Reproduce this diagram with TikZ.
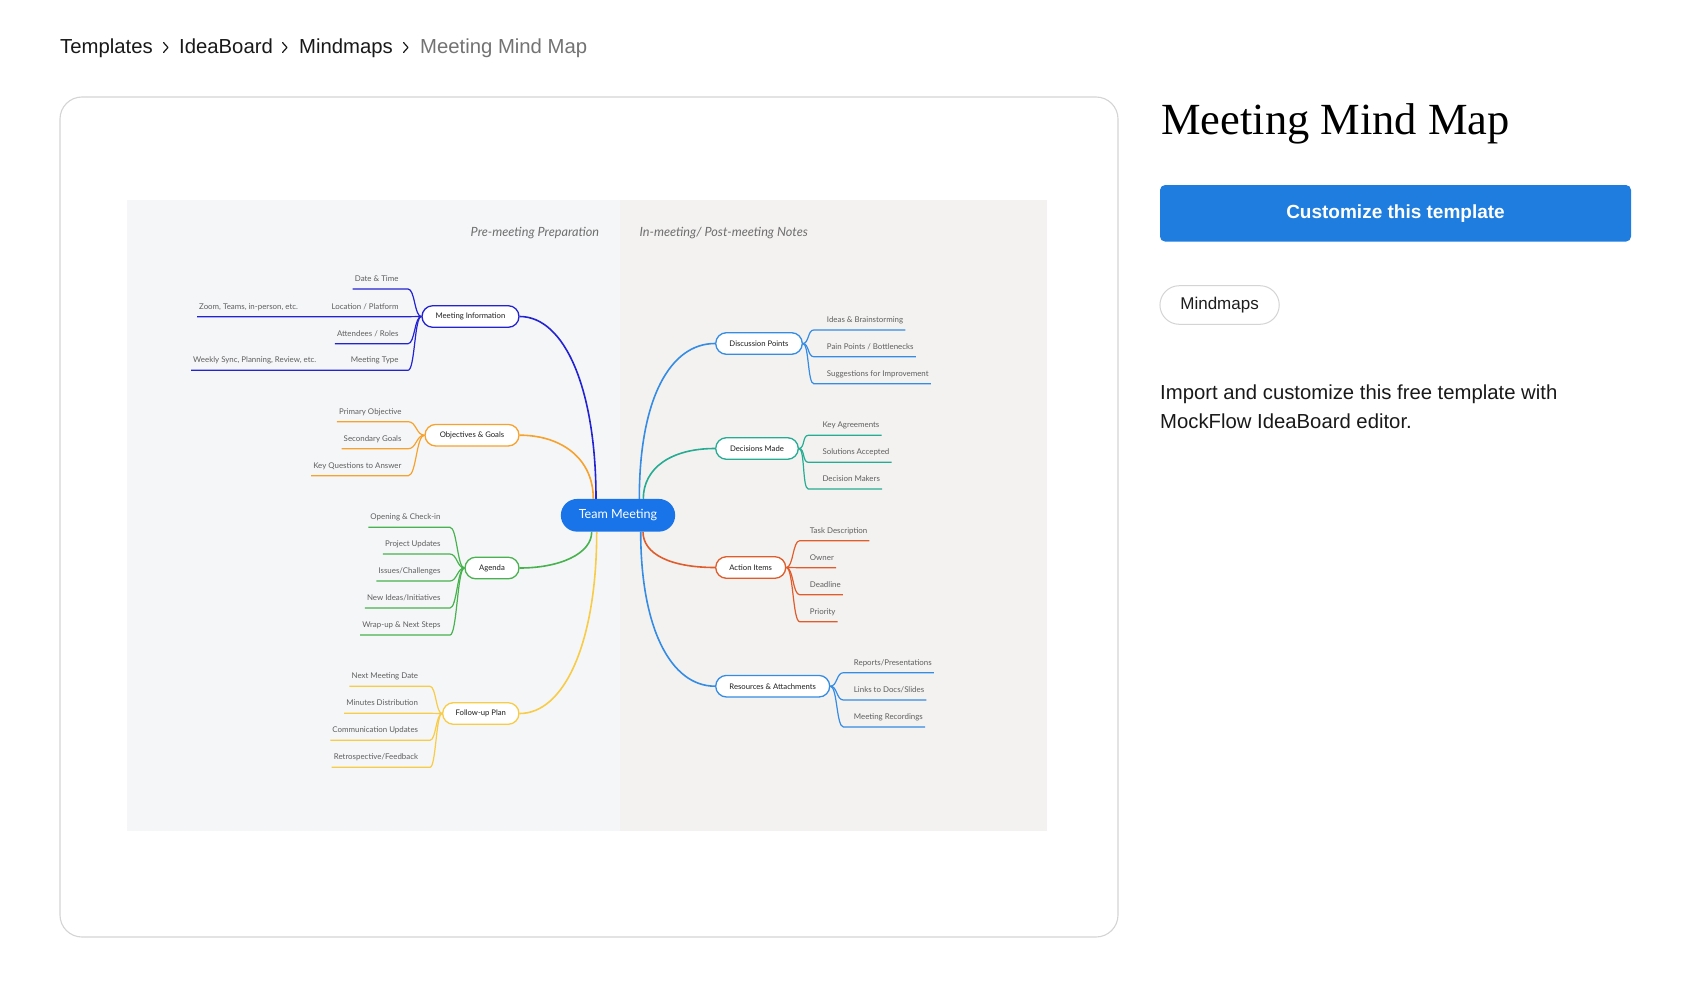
\documentclass[tikz,border=0pt]{standalone}
\usepackage{fontspec}
\usepackage{graphicx}
\setmainfont{Liberation Sans}
\newfontfamily\mmfont{Lato}
\newfontfamily\serifttl{Liberation Serif}
\usetikzlibrary{calc}
\pgfdeclarelayer{back}
\pgfdeclarelayer{bg}
\pgfsetlayers{back,bg,main}
\definecolor{mmBlueD}{RGB}{35,35,210}
\definecolor{mmOrange}{RGB}{246,162,45}
\definecolor{mmGreen}{RGB}{72,178,78}
\definecolor{mmYellow}{RGB}{248,204,70}
\definecolor{mmBlue}{RGB}{52,140,228}
\definecolor{mmTeal}{RGB}{38,172,146}
\definecolor{mmRed}{RGB}{224,92,42}
\definecolor{tmBlue}{RGB}{24,116,232}
\definecolor{btnBlue}{RGB}{30,125,222}
\definecolor{leftBg}{RGB}{245,246,248}
\definecolor{rightBg}{RGB}{243,242,241}
\definecolor{leafText}{RGB}{95,95,95}
\definecolor{nodeText}{RGB}{30,30,30}
\definecolor{headText}{RGB}{110,110,110}
\definecolor{cardLine}{RGB}{212,212,212}
\definecolor{crumbGray}{RGB}{115,115,115}
\definecolor{inkText}{RGB}{25,25,25}
\begin{document}
\begin{tikzpicture}[x=1pt,y=-1pt,
  mmnode/.style={draw, fill=white, rounded corners=10.8pt, minimum height=21.6pt, inner xsep=4pt, inner ysep=0pt, line width=1.3pt, text=nodeText, font=\mmfont\fontsize{7.7}{9}\selectfont},
  tmnode/.style={fill=tmBlue, rounded corners=16.3pt, minimum width=114.3pt, minimum height=32.7pt, inner sep=0pt, text=white, font=\mmfont\fontsize{12.6}{15}\selectfont},
  lleaf/.style={inner sep=0pt, anchor=base east, text=leafText, font=\mmfont\fontsize{7.9}{9}\selectfont},
  rleaf/.style={inner sep=0pt, anchor=base west, text=leafText, font=\mmfont\fontsize{7.9}{9}\selectfont},
  head/.style={inner sep=0pt, text=headText, font=\mmfont\itshape\fontsize{12.7}{15}\selectfont},
  branch/.style={line width=1.6pt},
  twig/.style={line width=1.2pt},
  crumb/.style={inner sep=0pt, anchor=base west, text=inkText, font=\fontsize{20.3}{24}\selectfont},
  chev/.style={line width=1.2pt, inkText, line cap=round, line join=round},
  desc/.style={inner sep=0pt, anchor=base west, text=inkText, font=\fontsize{20.3}{24}\selectfont}
]
\useasboundingbox (0,0) rectangle (1704,987);
\begin{pgfonlayer}{back}
\fill[white] (0,0) rectangle (1704,987);
\draw[cardLine, line width=1.1pt, rounded corners=22pt] (60,97) rectangle (1118,937);
\fill[leftBg] (127,200) rectangle (620,831);
\fill[rightBg] (620,200) rectangle (1047,831);
\end{pgfonlayer}

% breadcrumb
\node[crumb] (bc1) at (60,54) {Templates};
\draw[chev] (163.5,42.5) -- (168,47.5) -- (163.5,52.5);
\node[crumb] (bc2) at (179,54) {IdeaBoard};
\draw[chev] (282.5,42.5) -- (287,47.5) -- (282.5,52.5);
\node[crumb] (bc3) at (299,54) {Mindmaps};
\draw[chev] (403.5,42.5) -- (408,47.5) -- (403.5,52.5);
\node[crumb, text=crumbGray] (bc4) at (420,54) {Meeting Mind Map};

% right panel
\node[inner sep=0pt, anchor=base west, text=black] (title) at (1161,135)
  {\serifttl\fontsize{44.5}{50}\selectfont Meeting Mind Map};
\node[fill=btnBlue, rounded corners=5pt, minimum width=471pt, minimum height=56.5pt, inner sep=0pt,
  text=white, font=\bfseries\fontsize{19}{22}\selectfont] (btn) at (1395.5,213.3) {Customize this template};
\node[draw=cardLine, line width=1pt, fill=white, rounded corners=19.3pt, minimum width=119.3pt, minimum height=38.6pt,
  inner sep=0pt, text=nodeText, font=\fontsize{17}{20}\selectfont] (tag) at (1219.6,305) {Mindmaps};
\node[desc] (desc1) at (1160,399.3) {Import and customize this free template with};
\node[desc] (desc2) at (1160,428) {MockFlow IdeaBoard editor.};

% headings
\node[head, anchor=east] (hpre) at (599.3,232.7) {Pre-meeting Preparation};
\node[head, anchor=west] (hin) at (639.3,232.7) {In-meeting/ Post-meeting Notes};

% central node
\node[tmnode] (tm) at (618,515.3) {Team Meeting};

% main topics
\node[mmnode, draw=mmBlueD, minimum width=97pt] (mi) at (470.5,316.5) {Meeting Information};
\node[mmnode, draw=mmOrange, minimum width=94pt] (og) at (472,435.2) {Objectives \& Goals};
\node[mmnode, draw=mmGreen, minimum width=54pt] (ag) at (492,568) {Agenda};
\node[mmnode, draw=mmYellow, minimum width=76.3pt] (fu) at (480.8,713.5) {Follow-up Plan};
\node[mmnode, draw=mmBlue, minimum width=86.6pt] (dp) at (759,343.5) {Discussion Points};
\node[mmnode, draw=mmTeal, minimum width=82.6pt] (dm) at (757,448.5) {Decisions Made};
\node[mmnode, draw=mmRed, minimum width=70pt] (ai) at (750.7,567.5) {Action Items};
\node[mmnode, draw=mmBlue, minimum width=114pt] (ra) at (772.7,686.2) {Resources \& Attachments};

% leaves left
\node[lleaf] (mi1) at (398.7,281.5) {Date \& Time};
\node[lleaf] (mi2) at (398.7,309.2) {Location / Platform};
\node[lleaf] (mi3) at (398.7,336.2) {Attendees / Roles};
\node[lleaf] (mi4) at (398.7,362.8) {Meeting Type};
\node[rleaf] (mi2a) at (199,309.2) {Zoom, Teams, in-person, etc.};
\node[rleaf] (mi4a) at (193,362.8) {Weekly Sync, Planning, Review, etc.};

\node[lleaf] (og1) at (401.7,414.2) {Primary Objective};
\node[lleaf] (og2) at (401.7,441.2) {Secondary Goals};
\node[lleaf] (og3) at (401.7,468.2) {Key Questions to Answer};

\node[lleaf] (ag1) at (440.7,519.8) {Opening \& Check-in};
\node[lleaf] (ag2) at (440.7,546.5) {Project Updates};
\node[lleaf] (ag3) at (440.7,573.5) {Issues/Challenges};
\node[lleaf] (ag4) at (440.7,600.5) {New Ideas/Initiatives};
\node[lleaf] (ag5) at (440.7,627.5) {Wrap-up \& Next Steps};

\node[lleaf] (fu1) at (418.3,678.8) {Next Meeting Date};
\node[lleaf] (fu2) at (418.3,705.8) {Minutes Distribution};
\node[lleaf] (fu3) at (418.3,732.8) {Communication Updates};
\node[lleaf] (fu4) at (418.3,759.8) {Retrospective/Feedback};

% leaves right
\node[rleaf] (dp1) at (826.7,322.5) {Ideas \& Brainstorming};
\node[rleaf] (dp2) at (826.7,349.2) {Pain Points / Bottlenecks};
\node[rleaf] (dp3) at (826.7,376.2) {Suggestions for Improvement};

\node[rleaf] (dm1) at (822.3,427.8) {Key Agreements};
\node[rleaf] (dm2) at (822.3,454.8) {Solutions Accepted};
\node[rleaf] (dm3) at (822.3,481.5) {Decision Makers};

\node[rleaf] (ai1) at (809.7,533.2) {Task Description};
\node[rleaf] (ai2) at (809.7,560.2) {Owner};
\node[rleaf] (ai3) at (809.7,587.2) {Deadline};
\node[rleaf] (ai4) at (809.7,614.2) {Priority};

\node[rleaf] (ra1) at (853.7,665.2) {Reports/Presentations};
\node[rleaf] (ra2) at (853.7,692.5) {Links to Docs/Slides};
\node[rleaf] (ra3) at (853.7,719.5) {Meeting Recordings};

\begin{pgfonlayer}{bg}
% main branches
\draw[branch, mmBlueD] (mi.east) .. controls +(45,0) and +(0,-110) .. ($(tm.north)+(-22,0)$);
\draw[branch, mmOrange] (og.east) .. controls +(42,0) and +(0,-40) .. ($(tm.north)+(-24.7,0)$);
\draw[branch, mmGreen] (ag.east) .. controls +(40,0) and +(0,22) .. ($(tm.south)+(-26.3,0)$);
\draw[branch, mmYellow] (fu.east) .. controls +(45,0) and +(0,110) .. ($(tm.south)+(-21.3,0)$);
\draw[branch, mmBlue] ($(tm.north)+(21.3,0)$) .. controls +(0,-100) and +(-45,0) .. (dp.west);
\draw[branch, mmTeal] ($(tm.north)+(25.3,0)$) .. controls +(0,-30) and +(-45,0) .. (dm.west);
\draw[branch, mmRed] ($(tm.south)+(25,0)$) .. controls +(0,22) and +(-45,0) .. (ai.west);
\draw[branch, mmBlue] ($(tm.south)+(22.7,0)$) .. controls +(0,95) and +(-45,0) .. (ra.west);

% left twigs
\foreach \c in {mi1,mi3}
  \draw[twig, mmBlueD] (mi.west) .. controls +(-7,0) and +(7,0) .. ($(\c.base east)+(9.3,7.5)$) -- ($(\c.base west)+(-2,7.5)$);
\draw[twig, mmBlueD] (mi.west) .. controls +(-7,0) and +(7,0) .. ($(mi2.base east)+(9.3,7.5)$) -- ($(mi2a.base west)+(-2,7.5)$);
\draw[twig, mmBlueD] (mi.west) .. controls +(-7,0) and +(7,0) .. ($(mi4.base east)+(9.3,7.5)$) -- ($(mi4a.base west)+(-2,7.5)$);
\foreach \c in {og1,og2,og3}
  \draw[twig, mmOrange] (og.west) .. controls +(-8,0) and +(8,0) .. ($(\c.base east)+(6.6,7.5)$) -- ($(\c.base west)+(-2,7.5)$);
\foreach \c in {ag1,ag2,ag3,ag4,ag5}
  \draw[twig, mmGreen] (ag.west) .. controls +(-7,0) and +(7,0) .. ($(\c.base east)+(9.3,7.5)$) -- ($(\c.base west)+(-2,7.5)$);
\foreach \c in {fu1,fu2,fu3,fu4}
  \draw[twig, mmYellow] (fu.west) .. controls +(-6,0) and +(6,0) .. ($(\c.base east)+(11.7,7.5)$) -- ($(\c.base west)+(-2,7.5)$);
% right twigs
\foreach \c in {dp1,dp2,dp3}
  \draw[twig, mmBlue] (dp.east) .. controls +(6,0) and +(-6,0) .. ($(\c.base west)+(-13,7.5)$) -- ($(\c.base east)+(2,7.5)$);
\foreach \c in {dm1,dm2,dm3}
  \draw[twig, mmTeal] (dm.east) .. controls +(6,0) and +(-6,0) .. ($(\c.base west)+(-14,7.5)$) -- ($(\c.base east)+(2,7.5)$);
\foreach \c in {ai1,ai2,ai3,ai4}
  \draw[twig, mmRed] (ai.east) .. controls +(7,0) and +(-7,0) .. ($(\c.base west)+(-10,7.5)$) -- ($(\c.base east)+(2,7.5)$);
\foreach \c in {ra1,ra2,ra3}
  \draw[twig, mmBlue] (ra.east) .. controls +(7,0) and +(-7,0) .. ($(\c.base west)+(-10.3,7.5)$) -- ($(\c.base east)+(2,7.5)$);
\end{pgfonlayer}
\end{tikzpicture}
\end{document}
